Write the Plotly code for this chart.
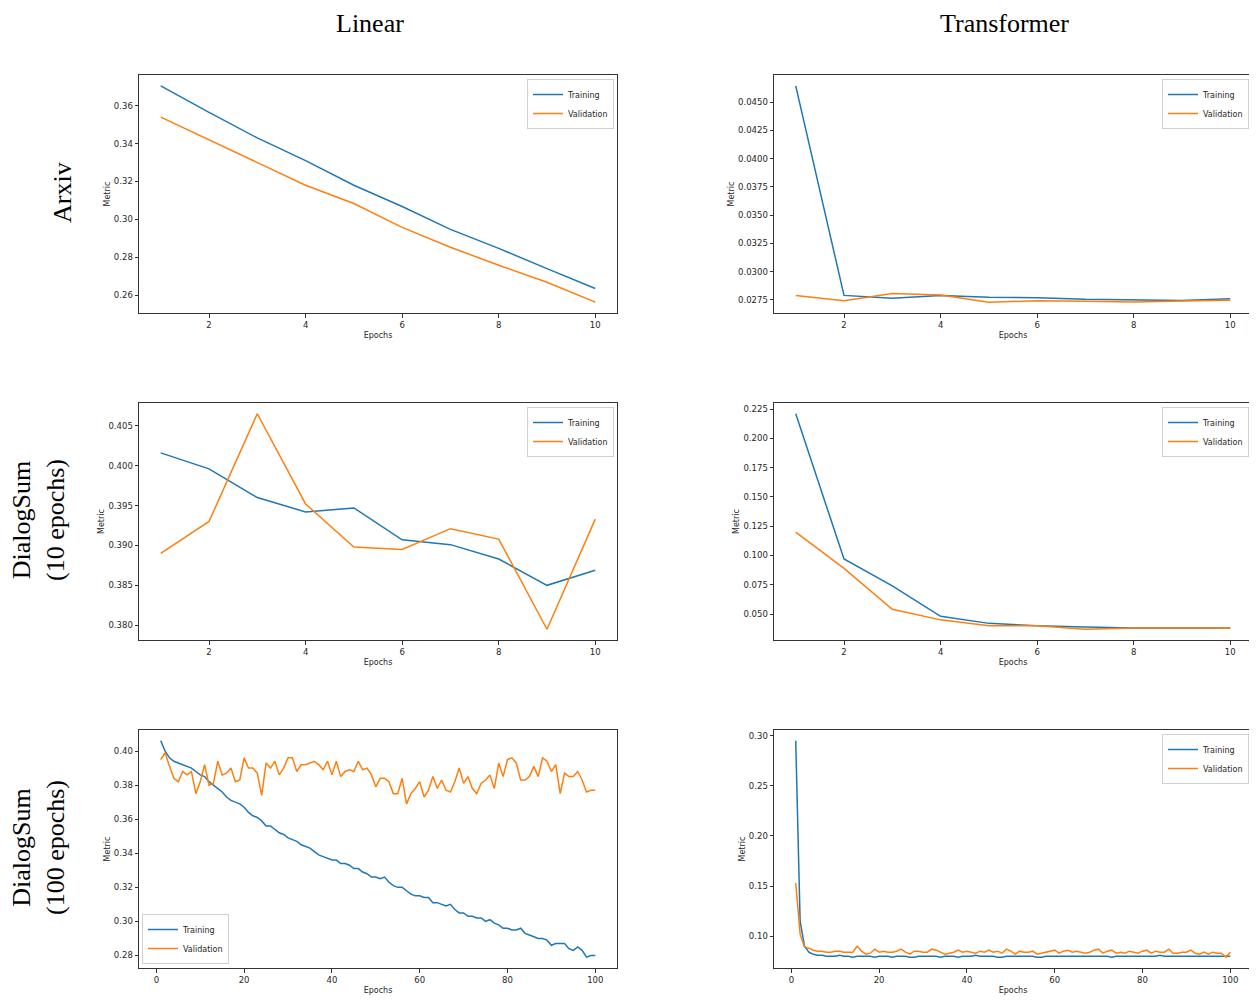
import plotly.graph_objects as go

# ---------------- data ----------------
epochs10 = [1, 2, 3, 4, 5, 6, 7, 8, 9, 10]
epochs100 = list(range(1, 101))

arxiv_linear_train = [0.3705, 0.3565, 0.3430, 0.3310, 0.3180, 0.3068, 0.2947, 0.2847, 0.2740, 0.2635]
arxiv_linear_val = [0.3540, 0.3420, 0.3297, 0.3180, 0.3084, 0.2958, 0.2853, 0.2758, 0.2668, 0.2563]

arxiv_trans_train = [0.04645, 0.02790, 0.02765, 0.02790, 0.02773, 0.02770, 0.02755, 0.02750, 0.02745, 0.02760]
arxiv_trans_val = [0.02790, 0.02743, 0.02807, 0.02793, 0.02730, 0.02742, 0.02738, 0.02732, 0.02740, 0.02748]

ds10_linear_train = [0.4016, 0.3996, 0.3960, 0.3942, 0.3947, 0.3907, 0.3901, 0.3883, 0.3850, 0.3869]
ds10_linear_val = [0.3890, 0.3930, 0.4065, 0.3952, 0.3898, 0.3895, 0.3921, 0.3908, 0.3795, 0.3933]

ds10_trans_train = [0.221, 0.097, 0.074, 0.048, 0.042, 0.040, 0.039, 0.038, 0.038, 0.038]
ds10_trans_val = [0.120, 0.089, 0.054, 0.045, 0.040, 0.040, 0.037, 0.038, 0.038, 0.038]

ds100_linear_train = [
    0.406, 0.400, 0.396, 0.394, 0.393, 0.392, 0.391, 0.390, 0.388, 0.386,
    0.385, 0.382, 0.380, 0.378, 0.376, 0.373, 0.371, 0.370, 0.369, 0.367,
    0.364, 0.362, 0.361, 0.359, 0.356, 0.356, 0.354, 0.352, 0.351, 0.349,
    0.348, 0.347, 0.345, 0.344, 0.343, 0.341, 0.339, 0.338, 0.337, 0.336,
    0.336, 0.334, 0.334, 0.333, 0.331, 0.331, 0.329, 0.328, 0.326, 0.326,
    0.325, 0.326, 0.323, 0.321, 0.320, 0.320, 0.318, 0.316, 0.315, 0.315,
    0.314, 0.314, 0.311, 0.311, 0.310, 0.309, 0.310, 0.307, 0.305, 0.305,
    0.303, 0.303, 0.302, 0.302, 0.300, 0.301, 0.299, 0.298, 0.296, 0.296,
    0.295, 0.295, 0.296, 0.293, 0.292, 0.291, 0.290, 0.290, 0.289, 0.286,
    0.287, 0.287, 0.287, 0.284, 0.283, 0.285, 0.283, 0.279, 0.280, 0.280,
]
ds100_linear_val = [
    0.395, 0.399, 0.391, 0.384, 0.382, 0.388, 0.386, 0.388, 0.375, 0.382,
    0.392, 0.380, 0.381, 0.394, 0.386, 0.387, 0.390, 0.382, 0.383, 0.396,
    0.390, 0.390, 0.387, 0.374, 0.393, 0.390, 0.394, 0.386, 0.390, 0.396,
    0.396, 0.388, 0.392, 0.392, 0.393, 0.394, 0.392, 0.389, 0.394, 0.386,
    0.394, 0.385, 0.388, 0.389, 0.388, 0.394, 0.389, 0.390, 0.386, 0.379,
    0.384, 0.384, 0.382, 0.375, 0.375, 0.384, 0.369, 0.375, 0.378, 0.382,
    0.373, 0.377, 0.385, 0.378, 0.383, 0.377, 0.376, 0.382, 0.390, 0.381,
    0.385, 0.378, 0.375, 0.381, 0.383, 0.386, 0.378, 0.393, 0.385, 0.395,
    0.396, 0.393, 0.383, 0.383, 0.385, 0.391, 0.385, 0.396, 0.394, 0.388,
    0.392, 0.375, 0.387, 0.385, 0.385, 0.388, 0.383, 0.376, 0.377, 0.377,
]

ds100_trans_train = [
    0.295, 0.115, 0.090, 0.084, 0.082, 0.081, 0.081, 0.080, 0.080, 0.080,
    0.081, 0.080, 0.080, 0.079, 0.080, 0.080, 0.080, 0.080, 0.079, 0.080,
    0.080, 0.080, 0.079, 0.080, 0.080, 0.080, 0.079, 0.079, 0.080, 0.080,
    0.080, 0.080, 0.080, 0.079, 0.080, 0.080, 0.080, 0.079, 0.080, 0.080,
    0.080, 0.081, 0.080, 0.080, 0.080, 0.080, 0.079, 0.079, 0.080, 0.080,
    0.080, 0.080, 0.080, 0.080, 0.080, 0.079, 0.079, 0.080, 0.080, 0.080,
    0.080, 0.080, 0.080, 0.080, 0.080, 0.080, 0.080, 0.080, 0.080, 0.080,
    0.080, 0.080, 0.079, 0.080, 0.080, 0.080, 0.080, 0.080, 0.080, 0.080,
    0.080, 0.080, 0.080, 0.081, 0.080, 0.080, 0.080, 0.080, 0.080, 0.080,
    0.080, 0.080, 0.080, 0.080, 0.080, 0.080, 0.080, 0.080, 0.080, 0.080,
]
ds100_trans_val = [
    0.153, 0.102, 0.089, 0.088, 0.086, 0.085, 0.085, 0.084, 0.084, 0.085,
    0.085, 0.084, 0.084, 0.084, 0.090, 0.085, 0.082, 0.083, 0.087, 0.084,
    0.085, 0.084, 0.084, 0.085, 0.087, 0.084, 0.082, 0.085, 0.085, 0.084,
    0.084, 0.087, 0.086, 0.084, 0.082, 0.083, 0.084, 0.086, 0.084, 0.085,
    0.084, 0.083, 0.085, 0.084, 0.086, 0.084, 0.085, 0.083, 0.087, 0.085,
    0.082, 0.085, 0.084, 0.084, 0.085, 0.082, 0.083, 0.084, 0.085, 0.086,
    0.083, 0.085, 0.086, 0.084, 0.085, 0.084, 0.083, 0.084, 0.086, 0.087,
    0.083, 0.085, 0.086, 0.083, 0.084, 0.083, 0.085, 0.084, 0.083, 0.085,
    0.086, 0.083, 0.085, 0.084, 0.084, 0.087, 0.083, 0.083, 0.084, 0.084,
    0.086, 0.083, 0.082, 0.084, 0.082, 0.084, 0.083, 0.083, 0.079, 0.084,
]

col_titles = ["Linear", "Transformer"]
row_titles = ["Arxiv", "DialogSum<br>(10 epochs)", "DialogSum<br>(100 epochs)"]
series_names = ["Training", "Validation"]

# ---------------- layout helpers ----------------
OFF = 8                      # page body margin offset
W, H = 1257 - OFF, 1000 - OFF
BLUE, ORANGE = "#1f77b4", "#ff7f0e"
TXT = "#262626"
TICK_FONT = dict(family="DejaVu Sans", size=8.5, color=TXT)
SMALL_FONT = dict(family="DejaVu Sans", size=8, color=TXT)

# screen-pixel boxes of the reference panels
col_px = [(139, 617), (774, 1252)]
row_px = [(75, 313), (403, 640), (730, 968)]


def fx(px):
    return (px - OFF) / W


def fy(py):
    return 1 - (py - OFF) / H


panels = [
    # row, col, x, train, val, ytick, yfmt, xticks, legend corner
    (0, 0, epochs10, arxiv_linear_train, arxiv_linear_val, 0.02, ".2f", [2, 4, 6, 8, 10], "tr"),
    (0, 1, epochs10, arxiv_trans_train, arxiv_trans_val, 0.0025, ".4f", [2, 4, 6, 8, 10], "tr"),
    (1, 0, epochs10, ds10_linear_train, ds10_linear_val, 0.005, ".3f", [2, 4, 6, 8, 10], "tr"),
    (1, 1, epochs10, ds10_trans_train, ds10_trans_val, 0.025, ".3f", [2, 4, 6, 8, 10], "tr"),
    (2, 0, epochs100, ds100_linear_train, ds100_linear_val, 0.02, ".2f", [0, 20, 40, 60, 80, 100], "bl"),
    (2, 1, epochs100, ds100_trans_train, ds100_trans_val, 0.05, ".2f", [0, 20, 40, 60, 80, 100], "tr"),
]


def padded(vals):
    lo, hi = min(vals), max(vals)
    pad = (hi - lo) * 0.05
    return [lo - pad, hi + pad]


fig = go.Figure()
layout = dict(
    width=W, height=H,
    margin=dict(l=0, r=0, t=0, b=0, autoexpand=False),
    paper_bgcolor="white", plot_bgcolor="white",
    font=dict(family="DejaVu Sans", color=TXT),
    annotations=[],
)

for i, (r, c, xs, tr, va, dt, fmt, xt, corner) in enumerate(panels):
    n = i + 1
    sfx = "" if n == 1 else str(n)
    lg = "legend" if n == 1 else f"legend{n}"
    x0, x1 = col_px[c]
    y0, y1 = row_px[r]
    fig.add_trace(go.Scatter(x=xs, y=tr, mode="lines", name=series_names[0],
                             line=dict(color=BLUE, width=1.5),
                             xaxis="x" + sfx, yaxis="y" + sfx, legend=lg))
    fig.add_trace(go.Scatter(x=xs, y=va, mode="lines", name=series_names[1],
                             line=dict(color=ORANGE, width=1.5),
                             xaxis="x" + sfx, yaxis="y" + sfx, legend=lg))
    axcommon = dict(showline=True, linecolor="#333", linewidth=1, mirror=True,
                    showgrid=False, zeroline=False, ticks="outside", ticklen=3.5,
                    tickcolor="#333", tickfont=TICK_FONT, automargin=False)
    layout["xaxis" + sfx] = dict(
        axcommon, domain=[fx(x0), fx(x1)], anchor="y" + sfx,
        range=padded(xs), tickvals=xt,
        title=dict(text="Epochs", font=SMALL_FONT, standoff=3),
    )
    layout["yaxis" + sfx] = dict(
        axcommon, domain=[fy(y1), fy(y0)], anchor="x" + sfx,
        range=padded(tr + va), dtick=dt, tickformat=fmt,
        title=dict(text="Metric", font=SMALL_FONT, standoff=2),
    )
    if corner == "tr":
        lx, ly, xa, ya = fx(x1 - 3), fy(y0 + 4), "right", "top"
    else:
        lx, ly, xa, ya = fx(x0 + 3), fy(y1 - 4), "left", "bottom"
    layout[lg] = dict(x=lx, y=ly, xanchor=xa, yanchor=ya,
                      bgcolor="rgba(255,255,255,0.8)", bordercolor="#d0d0d0", borderwidth=1,
                      font=SMALL_FONT, itemwidth=30, tracegroupgap=0)

serif = dict(family="Liberation Serif", size=26, color="black")
for c, t in enumerate(col_titles):
    cx = [370, 1005][c]
    layout["annotations"].append(dict(text=t, x=fx(cx), y=1, xref="paper", yref="paper",
                                      showarrow=False, font=serif, borderpad=0,
                                      xanchor="center", yanchor="top"))
for r, t in enumerate(row_titles):
    cx = [62, 38, 38][r]
    cy = [193, 520, 848][r]
    layout["annotations"].append(dict(text=t, x=fx(cx), y=fy(cy), xref="paper", yref="paper",
                                      showarrow=False, font=serif, textangle=-90,
                                      xanchor="center", yanchor="middle"))

fig.update_layout(**layout)
fig.write_html("out.html")
